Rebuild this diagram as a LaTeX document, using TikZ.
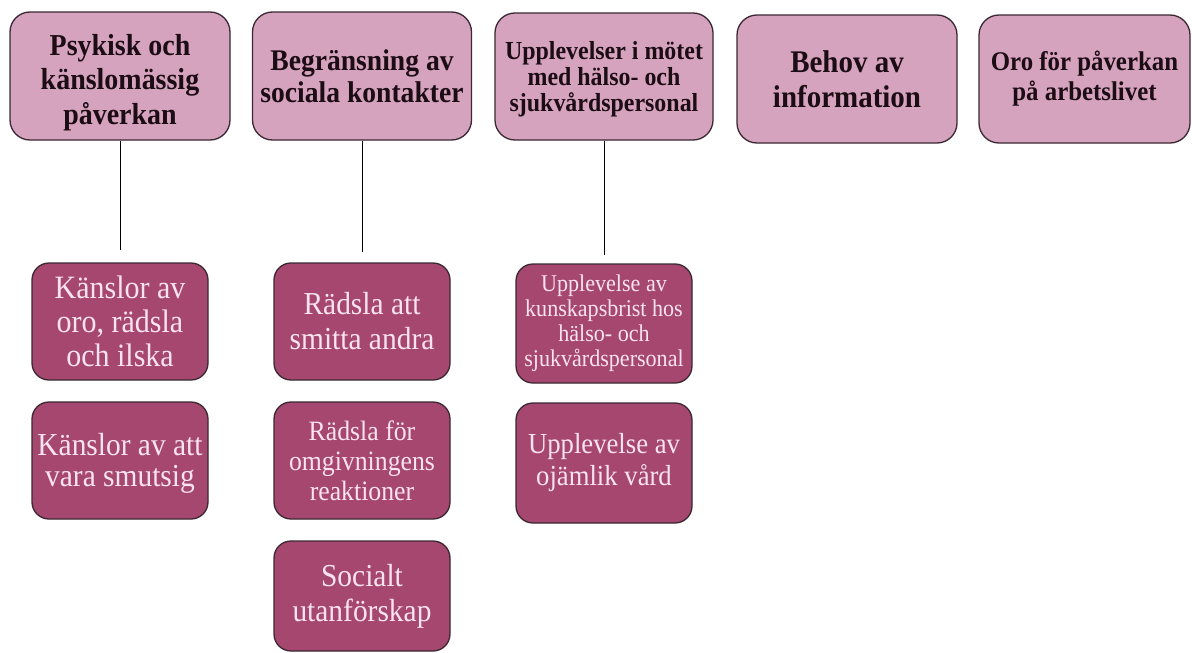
\documentclass[tikz,border=0pt]{standalone}
\usepackage{fontspec}
\setmainfont{Liberation Serif}[FakeStretch=0.92]
\definecolor{topfill}{HTML}{D6A3BE}
\definecolor{botfill}{HTML}{A5476F}
\definecolor{bordc}{HTML}{3A2832}
\definecolor{bottext}{HTML}{FBE3EF}
\definecolor{toptext}{HTML}{1C0C14}
\newcommand{\lift}[1]{\rule{0pt}{#1}}
\begin{document}
\begin{tikzpicture}[x=1pt,y=-1pt,
  topbox/.style={draw=bordc, line width=1.3pt, fill=topfill, rounded corners=20pt,
    text=toptext, align=center, inner sep=0pt},
  subbox/.style={draw=bordc, line width=1.3pt, fill=botfill, rounded corners=17pt,
    text=bottext, align=center, inner sep=0pt, minimum width=176pt},
  link/.style={draw=black, line width=1pt}]
\useasboundingbox[fill=white] (0,0) rectangle (1192,653);

% top categories
\node[topbox, minimum width=220pt, minimum height=128pt,
  font={\fontsize{30.4}{34.5}\selectfont\bfseries}] (t1) at (120,76)
  {\lift{34pt}Psykisk och\\känslomässig\\påverkan};
\node[topbox, minimum width=219pt, minimum height=128pt,
  font={\fontsize{30}{32}\selectfont\bfseries}] (t2) at (362,76)
  {Begränsning av\\sociala kontakter};
\node[topbox, minimum width=218pt, minimum height=127pt,
  font={\fontsize{26}{26}\selectfont\bfseries}] (t3) at (604,76.5)
  {\lift{24pt}Upplevelser i mötet\\med hälso- och\\sjukvårdspersonal};
\node[topbox, minimum width=220pt, minimum height=128pt,
  font={\fontsize{31.5}{35}\selectfont\bfseries}] (t4) at (847,79)
  {Behov av\\information};
\node[topbox, minimum width=211pt, minimum height=128pt,
  font={\fontsize{27}{30}\selectfont\bfseries}] (t5) at (1084.5,79)
  {Oro för påverkan\\på arbetslivet};

% sub categories
\node[subbox, minimum height=117pt, font={\fontsize{32.6}{34}\selectfont}] (a1) at (120,321.5)
  {Känslor av\\oro, rädsla\\och ilska};
\node[subbox, minimum height=117pt, font={\fontsize{32}{31}\selectfont}] (a2) at (120,460.5)
  {\lift{28pt}Känslor av att\\vara smutsig};
\node[subbox, minimum height=117pt, font={\fontsize{32}{35}\selectfont}] (b1) at (362,321.5)
  {Rädsla att\\smitta andra};
\node[subbox, minimum height=117pt, font={\fontsize{28}{30}\selectfont}] (b2) at (362,460.5)
  {Rädsla för\\omgivningens\\reaktioner};
\node[subbox, minimum height=110pt, font={\fontsize{32}{35}\selectfont}] (b3) at (362,596)
  {Socialt\\utanförskap};
\node[subbox, minimum height=119pt, font={\fontsize{24}{25}\selectfont}] (c1) at (604,323.5)
  {Upplevelse av\\kunskapsbrist hos\\hälso- och\\sjukvårdspersonal};
\node[subbox, minimum height=120pt, font={\fontsize{29}{32}\selectfont}] (c2) at (604,463)
  {Upplevelse av\\ojämlik vård};

% connectors
\coordinate (e1) at (120,250);
\coordinate (e2) at (362,252);
\coordinate (e3) at (604,255);
\draw[link] (t1.south) -- (e1);
\draw[link] (t2.south) -- (e2);
\draw[link] (t3.south) -- (e3);
\end{tikzpicture}
\end{document}
